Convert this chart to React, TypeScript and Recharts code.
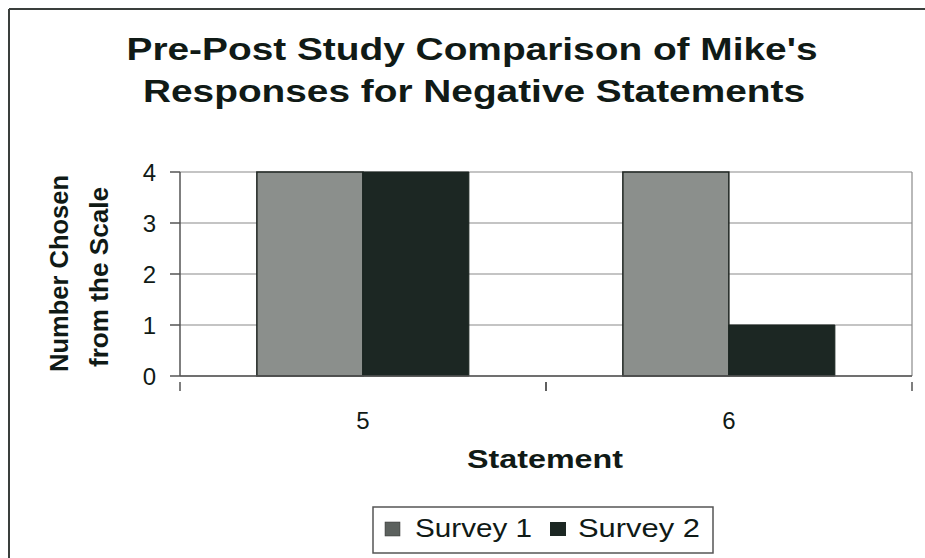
import React from 'react';
import { BarChart, Bar, XAxis, YAxis, CartesianGrid, Legend, Customized } from 'recharts';

const statements = ['5', '6'];
const survey1 = [4, 4];
const survey2 = [4, 1];
const yTicks = [0, 1, 2, 3, 4];
const titleLines = ["Pre-Post Study Comparison of Mike's", 'Responses for Negative Statements'];
const yLabelLines = ['Number Chosen', 'from the Scale'];
const xLabel = 'Statement';

const data = statements.map((s, i) => ({ statement: s, s1: survey1[i], s2: survey2[i] }));

const TEXT = '#101a16';
const GRAY = '#8b8f8c';
const DARK = '#1c2723';
const FONT = 'Arial, "Liberation Sans", Helvetica, sans-serif';

const XTick = (props: any) => {
  const { x, y, payload } = props;
  const off = payload.offset || 0;
  return (
    <g>
      <line x1={x - off} y1={y} x2={x - off} y2={y + 9} stroke="#555" strokeWidth={1.5} />
      <line x1={x + off} y1={y} x2={x + off} y2={y + 9} stroke="#555" strokeWidth={1.5} />
      <text x={x} y={y + 47} textAnchor="middle" fontSize={24} fontFamily={FONT} fill={TEXT}>
        {payload.value}
      </text>
    </g>
  );
};

const Decor = () => (
  <g>
    <line x1={1} y1={1} x2={2000} y2={1} stroke="#3a3f3c" strokeWidth={2} />
    <line x1={1} y1={1} x2={1} y2={2000} stroke="#3a3f3c" strokeWidth={2} />
    <text x={464} y={52} textAnchor="middle" fontSize={31} fontWeight="bold" fontFamily={FONT} fill={TEXT}
      textLength={691} lengthAdjust="spacingAndGlyphs">{titleLines[0]}</text>
    <text x={466} y={94} textAnchor="middle" fontSize={31} fontWeight="bold" fontFamily={FONT} fill={TEXT}
      textLength={662} lengthAdjust="spacingAndGlyphs">{titleLines[1]}</text>
    <text transform="translate(60,265.5) rotate(-90)" textAnchor="middle" fontSize={26} fontWeight="bold"
      fontFamily={FONT} fill={TEXT} textLength={197} lengthAdjust="spacingAndGlyphs">{yLabelLines[0]}</text>
    <text transform="translate(100,269) rotate(-90)" textAnchor="middle" fontSize={26} fontWeight="bold"
      fontFamily={FONT} fill={TEXT} textLength={180} lengthAdjust="spacingAndGlyphs">{yLabelLines[1]}</text>
    <text x={537} y={460} textAnchor="middle" fontSize={26} fontWeight="bold" fontFamily={FONT} fill={TEXT}
      textLength={156} lengthAdjust="spacingAndGlyphs">{xLabel}</text>
  </g>
);

const LegendBox = () => (
  <svg width={342} height={48} style={{ display: 'block' }}>
    <rect x={1} y={1} width={340} height={46} fill="#fff" stroke="#555" strokeWidth={1.5} />
    <rect x={13} y={16} width={15} height={14} fill="#5c615e" stroke="#333" strokeWidth={0.5} />
    <text x={43} y={31} fontSize={25} fontFamily={FONT} fill={TEXT} textLength={117} lengthAdjust="spacingAndGlyphs">Survey 1</text>
    <rect x={178} y={16} width={16} height={14} fill={DARK} />
    <text x={206} y={31} fontSize={25} fontFamily={FONT} fill={TEXT} textLength={122} lengthAdjust="spacingAndGlyphs">Survey 2</text>
  </svg>
);

export default function App() {
  return (
    <div style={{ position: 'absolute', left: 8, top: 8, width: 917, height: 550, background: '#fff' }}>
      <BarChart
        width={917}
        height={550}
        data={data}
        margin={{ top: 164, right: 13, bottom: 142, left: 112 }}
        barCategoryGap="21%"
        barGap={0}
      >
        <CartesianGrid
          horizontal
          vertical
          verticalCoordinatesGenerator={(p: any) => [p.offset.left + p.offset.width]}
          stroke="#8a8a8a"
          strokeWidth={1.2}
        />
        <XAxis
          dataKey="statement"
          axisLine={{ stroke: '#555', strokeWidth: 1.5 }}
          tickLine={false}
          tickMargin={0}
          height={40}
          tick={<XTick />}
          interval={0}
        />
        <YAxis
          domain={[0, 4]}
          ticks={yTicks}
          width={60}
          axisLine={{ stroke: '#555', strokeWidth: 1.5 }}
          tickLine={{ stroke: '#555', strokeWidth: 1.5 }}
          tickSize={10}
          tickMargin={14}
          tick={{ fontSize: 24, fontFamily: FONT, fill: TEXT }}
        />
        <Bar dataKey="s1" name="Survey 1" fill={GRAY} stroke="#1f2622" strokeWidth={1.5} isAnimationActive={false} />
        <Bar dataKey="s2" name="Survey 2" fill={DARK} stroke="#1a2420" strokeWidth={1} isAnimationActive={false} />
        <Legend
          layout="vertical"
          align="center"
          verticalAlign="middle"
          content={<LegendBox />}
          wrapperStyle={{ position: 'absolute', left: 364, top: 498, width: 342, height: 48 }}
        />
        <Customized component={Decor} />
      </BarChart>
    </div>
  );
}
